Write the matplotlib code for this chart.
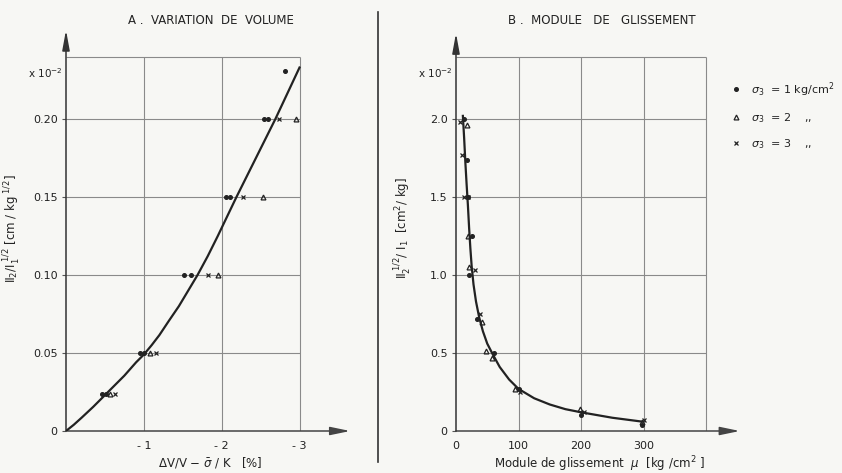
import matplotlib
matplotlib.use("Agg")
from matplotlib import pyplot as plt
from matplotlib.lines import Line2D

# --- A. variation de volume (x en %, y en 1e-2) ---
vol_s1_x = [-0.46, -0.51, -0.95, -1.0, -1.52, -1.6, -2.05, -2.11, -2.54, -2.6, -2.81]
vol_s1_y = [0.024, 0.024, 0.05, 0.05, 0.10, 0.10, 0.15, 0.15, 0.20, 0.20, 0.231]
vol_s2_x = [-0.57, -1.08, -1.95, -2.53, -2.95]
vol_s2_y = [0.024, 0.05, 0.10, 0.15, 0.20]
vol_s3_x = [-0.63, -1.15, -1.82, -2.28, -2.74]
vol_s3_y = [0.024, 0.05, 0.10, 0.15, 0.20]
vol_fit_x = [0, -0.1, -0.2, -0.35, -0.54, -0.75, -0.9, -1.0, -1.1, -1.2, -1.32, -1.45,
             -1.57, -1.69, -1.82, -1.95, -2.07, -2.19, -2.44, -2.69, -3.0]
vol_fit_y = [0, 0.004, 0.0085, 0.0155, 0.025, 0.0355, 0.044, 0.049, 0.055, 0.0615, 0.0705,
             0.080, 0.090, 0.100, 0.112, 0.125, 0.1375, 0.150, 0.175, 0.200, 0.233]
vol_xticks = [-1, -2, -3]
vol_xlabels = ["- 1", "- 2", "- 3"]
vol_yticks = [0, 0.05, 0.10, 0.15, 0.20]
vol_ylabels = ["0", "0.05", "0.10", "0.15", "0.20"]

# --- B. module de glissement ---
mod_s1_x = [13, 17, 19, 25, 21, 34, 61, 100, 200, 298]
mod_s1_y = [2.0, 1.74, 1.5, 1.25, 1.0, 0.72, 0.5, 0.27, 0.10, 0.04]
mod_s2_x = [17, 19, 21, 41, 48, 57, 95, 198, 297]
mod_s2_y = [1.96, 1.25, 1.05, 0.70, 0.51, 0.47, 0.27, 0.14, 0.06]
mod_s3_x = [6, 10, 13, 19, 30, 38, 102, 205, 300]
mod_s3_y = [1.98, 1.77, 1.5, 1.5, 1.03, 0.75, 0.25, 0.12, 0.07]
mod_fit_x = [11, 13, 15, 17, 19, 21, 23, 25, 28, 32, 37, 43, 50, 59, 70, 85, 100, 125,
             150, 175, 200, 250, 298]
mod_fit_y = [2.02, 1.88, 1.72, 1.58, 1.45, 1.30, 1.17, 1.06, 0.94, 0.83, 0.73, 0.64, 0.56,
             0.49, 0.41, 0.33, 0.27, 0.21, 0.17, 0.14, 0.12, 0.085, 0.06]
mod_xticks = [0, 100, 200, 300]
mod_yticks = [0, 0.5, 1.0, 1.5, 2.0]
mod_ylabels = ["0", "0.5", "1.0", "1.5", "2.0"]

legend_labels = [r"$\sigma_3$  = 1 kg/cm$^2$", r"$\sigma_3$  = 2    ,,", r"$\sigma_3$  = 3    ,,"]

ink = "#222222"
grid_c = "#8a8a8a"
paper = "#f7f7f4"

plt.rcParams["font.family"] = ["DejaVu Sans"]
plt.rcParams["mathtext.fontset"] = "dejavusans"

W, H = 842, 473
fig = plt.figure(figsize=(8.42, 4.73), dpi=100, facecolor=paper)

axA = fig.add_axes([66 / W, 42 / H, 288 / W, 405.6 / H])
axB = fig.add_axes([456 / W, 42 / H, 287.5 / W, 405.6 / H])


def frame(ax, xend, yend, gx, gy, xmax, ymax):
    ax.set_facecolor("none")
    for s in ax.spines.values():
        s.set_visible(False)
    ax.vlines(gx, 0, ymax, color=grid_c, lw=0.8, zorder=1)
    ax.hlines(gy, 0, xmax, color=grid_c, lw=0.8, zorder=1)
    ax.annotate("", xy=(xend, 0), xytext=(0, 0), annotation_clip=False,
                arrowprops=dict(arrowstyle="-|>,head_length=1.2,head_width=0.25",
                                color="#444444", lw=1.1, shrinkA=0, shrinkB=0))
    ax.annotate("", xy=(0, yend), xytext=(0, 0), annotation_clip=False,
                arrowprops=dict(arrowstyle="-|>,head_length=1.2,head_width=0.22",
                                color="#333333", lw=1.1, shrinkA=0, shrinkB=0))
    ax.tick_params(length=3, width=0.8, color="#555555", labelsize=8,
                   labelcolor=ink, pad=3)


# panel A
axA.set_xlim(0, -3.7)
axA.set_ylim(0, 0.26)
frame(axA, -3.65, 0.257, [-1, -2, -3], [0.05, 0.10, 0.15, 0.20, 0.24], -3.0, 0.24)
axA.plot(vol_fit_x, vol_fit_y, color=ink, lw=1.6, zorder=3)
axA.plot(vol_s1_x, vol_s1_y, "o", ms=2.6, color=ink, zorder=4)
axA.plot(vol_s2_x, vol_s2_y, "^", ms=3.5, mfc="none", mec=ink, mew=0.9, zorder=4)
axA.plot(vol_s3_x, vol_s3_y, "x", ms=3, mec=ink, mew=0.9, zorder=4)
axA.set_xticks(vol_xticks, vol_xlabels)
axA.set_yticks(vol_yticks, vol_ylabels)
axA.tick_params(axis="x", length=0, pad=7)
axA.set_xlabel(r"$\Delta$V/V $-$ $\bar{\sigma}$ / K   [%]", fontsize=8.5, color=ink, labelpad=3)
axA.set_ylabel(r"Ⅱ$_2$/Ⅰ$_1^{\ 1/2}$ [cm / kg$^{\ 1/2}$]", fontsize=8.5, color=ink, labelpad=8)

# panel B
axB.set_xlim(0, 460)
axB.set_ylim(0, 2.6)
frame(axB, 454, 2.55, [100, 200, 300, 400], [0.5, 1.0, 1.5, 2.0, 2.4], 400, 2.4)
axB.plot(mod_fit_x, mod_fit_y, color=ink, lw=1.6, zorder=3)
h1, = axB.plot(mod_s1_x, mod_s1_y, "o", ms=2.6, color=ink, zorder=4)
h2, = axB.plot(mod_s2_x, mod_s2_y, "^", ms=3.5, mfc="none", mec=ink, mew=0.9, zorder=4)
h3, = axB.plot(mod_s3_x, mod_s3_y, "x", ms=3, mec=ink, mew=0.9, zorder=4)
axB.set_xticks(mod_xticks)
axB.set_yticks(mod_yticks, mod_ylabels)
axB.tick_params(axis="x", length=0, pad=7)
axB.set_xlabel(r"Module de glissement  $\mu$  [kg /cm$^2$ ]", fontsize=8.5, color=ink, labelpad=3)
axB.set_ylabel(r"Ⅱ$_2^{\ 1/2}$/ Ⅰ$_1$  [cm$^2$/ kg]", fontsize=8.5, color=ink, labelpad=12)

# multipliers
for x0 in (28, 418):
    fig.text(x0 / W, 1 - 73 / H, r"x 10$^{-2}$", fontsize=7.5, color=ink, va="center")

# titles
fig.text(211 / W, 1 - 20 / H, "A .  VARIATION  DE  VOLUME", fontsize=8.5, color=ink,
         ha="center", va="center")
fig.text(602 / W, 1 - 20 / H, "B .  MODULE   DE   GLISSEMENT", fontsize=8.5, color=ink,
         ha="center", va="center")

# divider
fig.add_artist(Line2D([378 / W, 378 / W], [1 - 12 / H, 1 - 462 / H], color="#333333", lw=1.2))

fig.legend([h1, h2, h3], legend_labels, loc="upper left",
           bbox_to_anchor=(720 / W, 1 - 70 / H), frameon=False, fontsize=8,
           handlelength=1.0, handletextpad=0.9, labelspacing=1.1, labelcolor=ink)

plt.savefig("out.png", dpi=100, facecolor=paper)
